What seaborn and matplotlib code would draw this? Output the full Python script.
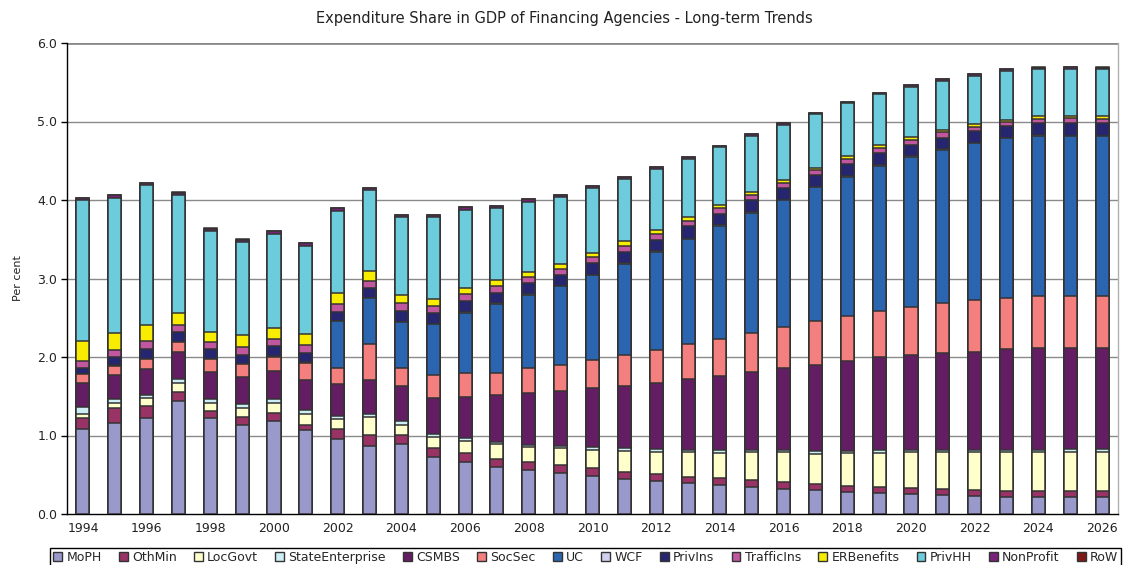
import numpy as np
import pandas as pd
import matplotlib
matplotlib.use("Agg")
import matplotlib.pyplot as plt
from matplotlib.patches import Patch
import seaborn as sns

years = list(range(1994, 2027))

moph = [1.08, 1.155, 1.225, 1.44, 1.22, 1.135, 1.18, 1.07, 0.95, 0.865, 0.89,
        0.72, 0.66, 0.60, 0.56, 0.52, 0.485, 0.445, 0.42, 0.39, 0.37, 0.345,
        0.32, 0.30, 0.28, 0.265, 0.25, 0.24, 0.23, 0.22, 0.22, 0.22, 0.22]
othmin = [0.14, 0.19, 0.15, 0.12, 0.09, 0.105, 0.11, 0.07, 0.13, 0.14, 0.115,
          0.12, 0.115, 0.105, 0.10, 0.105, 0.10, 0.095, 0.095, 0.085, 0.085, 0.09,
          0.085, 0.08, 0.075, 0.085, 0.08, 0.075, 0.075, 0.075, 0.075, 0.075, 0.075]
locgovt = [0.06, 0.065, 0.10, 0.115, 0.105, 0.11, 0.12, 0.13, 0.125, 0.23, 0.13,
           0.14, 0.155, 0.185, 0.195, 0.21, 0.235, 0.265, 0.28, 0.32, 0.325, 0.35,
           0.38, 0.39, 0.425, 0.43, 0.46, 0.48, 0.49, 0.50, 0.50, 0.50, 0.50]
state_enterprise = [0.08, 0.05, 0.04, 0.05, 0.045, 0.045, 0.05, 0.055, 0.045, 0.045, 0.05,
                    0.035, 0.04, 0.03, 0.03, 0.035, 0.03, 0.03, 0.03, 0.02, 0.035, 0.025,
                    0.025, 0.03, 0.025, 0.035, 0.025, 0.02, 0.025, 0.025, 0.025, 0.03, 0.03]
csmbs = [0.31, 0.31, 0.33, 0.335, 0.35, 0.35, 0.365, 0.38, 0.40, 0.425, 0.44,
         0.46, 0.52, 0.59, 0.66, 0.70, 0.75, 0.79, 0.84, 0.90, 0.94, 1.00,
         1.05, 1.10, 1.14, 1.18, 1.21, 1.24, 1.25, 1.28, 1.30, 1.29, 1.29]
socsec = [0.11, 0.12, 0.13, 0.13, 0.16, 0.16, 0.18, 0.22, 0.21, 0.455, 0.24,
          0.29, 0.305, 0.29, 0.32, 0.33, 0.365, 0.395, 0.425, 0.445, 0.48, 0.50,
          0.52, 0.56, 0.58, 0.59, 0.615, 0.63, 0.65, 0.655, 0.66, 0.66, 0.66]
uc = [0, 0, 0, 0, 0, 0, 0, 0, 0.595, 0.59, 0.58,
      0.65, 0.77, 0.88, 0.93, 1.00, 1.08, 1.17, 1.25, 1.34, 1.44, 1.53,
      1.62, 1.70, 1.77, 1.85, 1.91, 1.955, 2.00, 2.03, 2.04, 2.04, 2.04]
wcf = [0.005] * 33
privins = [0.07, 0.10, 0.125, 0.125, 0.125, 0.12, 0.13, 0.12, 0.115, 0.12, 0.135,
           0.135, 0.145, 0.135, 0.14, 0.145, 0.15, 0.145, 0.15, 0.16, 0.145, 0.155,
           0.15, 0.15, 0.16, 0.155, 0.15, 0.15, 0.155, 0.15, 0.15, 0.165, 0.16]
trafficins = [0.10, 0.095, 0.10, 0.085, 0.09, 0.095, 0.085, 0.10, 0.105, 0.09, 0.10,
              0.095, 0.085, 0.085, 0.085, 0.077, 0.07, 0.07, 0.07, 0.07, 0.075, 0.068,
              0.065, 0.065, 0.065, 0.065, 0.065, 0.065, 0.055, 0.055, 0.06, 0.055, 0.055]
erbenefits = [0.25, 0.22, 0.20, 0.16, 0.125, 0.15, 0.145, 0.14, 0.135, 0.13, 0.105,
              0.09, 0.085, 0.07, 0.06, 0.06, 0.06, 0.065, 0.05, 0.045, 0.04, 0.04,
              0.03, 0.03, 0.035, 0.035, 0.035, 0.03, 0.03, 0.03, 0.03, 0.03, 0.03]
privhh = [1.79, 1.72, 1.78, 1.50, 1.29, 1.19, 1.20, 1.13, 1.05, 1.03, 0.99,
          1.04, 0.99, 0.92, 0.895, 0.85, 0.82, 0.79, 0.78, 0.745, 0.73, 0.71,
          0.71, 0.68, 0.67, 0.65, 0.635, 0.63, 0.62, 0.62, 0.60, 0.60, 0.60]
nonprofit = [0.03] * 18 + [0.02] * 15
row = [0.003] * 33

series_names = ["MoPH", "OthMin", "LocGovt", "StateEnterprise", "CSMBS", "SocSec",
                "UC", "WCF", "PrivIns", "TrafficIns", "ERBenefits", "PrivHH",
                "NonProfit", "RoW"]
series_values = [moph, othmin, locgovt, state_enterprise, csmbs, socsec, uc, wcf,
                 privins, trafficins, erbenefits, privhh, nonprofit, row]
colors = ["#9999CC", "#993366", "#FFFFCC", "#CCEEF4", "#631E63", "#F47F7F",
          "#2B65B0", "#D0D0F0", "#262670", "#C0579F", "#F8EC00", "#6CCCDC",
          "#772277", "#801818"]

df = pd.DataFrame(dict(zip(series_names, series_values)))
df.insert(0, "Year", [str(y) for y in years])
cum = df[series_names].cumsum(axis=1)

sns.set_theme(style="white")
plt.rcParams["font.family"] = ["DejaVu Sans"]

fig = plt.figure(figsize=(11.29, 5.65), dpi=100)
ax = fig.add_axes([67 / 1129, 51 / 565, 1051 / 1129, 471 / 565])

# Draw cumulative totals from the top layer down so each layer sits on the one below
for name, col in reversed(list(zip(series_names, colors))):
    sns.barplot(x=df["Year"], y=cum[name], color=col, saturation=1, width=0.41,
                edgecolor="#333333", linewidth=1.1, errorbar=None, ax=ax, zorder=3)

ax.set_ylim(0, 6)
ax.set_xlim(-0.5, len(years) - 0.5)
ax.set_yticks(np.arange(0, 6.1, 1.0))
ax.set_yticklabels([f"{v:.1f}" for v in np.arange(0, 6.1, 1.0)], fontsize=9, color="#222222")
ax.set_xticks(range(0, len(years), 2))
ax.set_xticklabels([str(y) for y in years[::2]], fontsize=9, color="#222222")
ax.set_xticks(np.arange(-0.5, len(years), 1.0), minor=True)
ax.tick_params(axis="x", which="major", length=0, pad=6)
ax.tick_params(axis="x", which="minor", length=4, width=1, color="black", direction="out")
ax.tick_params(axis="y", which="major", length=4, width=1, color="black", direction="out", left=True, pad=3)

for v in range(1, 7):
    ax.axhline(v, color="#8a8a8a", linewidth=1.0 if v < 6 else 2.0, zorder=1)

ax.set_xlabel("")
ax.set_ylabel("Per cent", fontsize=8, color="#222222", labelpad=10)
for s in ["left", "bottom"]:
    ax.spines[s].set_color("black")
    ax.spines[s].set_linewidth(1.0)
ax.spines["top"].set_visible(False)
ax.spines["right"].set_color("#b0b0b0")
ax.spines["right"].set_linewidth(1.0)

fig.text(0.5, 1 - 19 / 565, "Expenditure Share in GDP of Financing Agencies - Long-term Trends",
         ha="center", va="center", fontsize=10.5, color="#222222")

handles = [Patch(facecolor=c, edgecolor="#333333", linewidth=1.0, label=n)
           for n, c in zip(series_names, colors)]
leg = fig.legend(handles=handles, loc="upper left", bbox_to_anchor=(50 / 1129, 1 - 548 / 565),
                 ncol=14, fontsize=9, frameon=True, fancybox=False, framealpha=1,
                 edgecolor="black", handlelength=0.7, handleheight=0.7,
                 handletextpad=0.35, columnspacing=1.38, borderpad=0.25, borderaxespad=0)
leg.get_frame().set_linewidth(1.0)

fig.savefig("out.png", dpi=100)
